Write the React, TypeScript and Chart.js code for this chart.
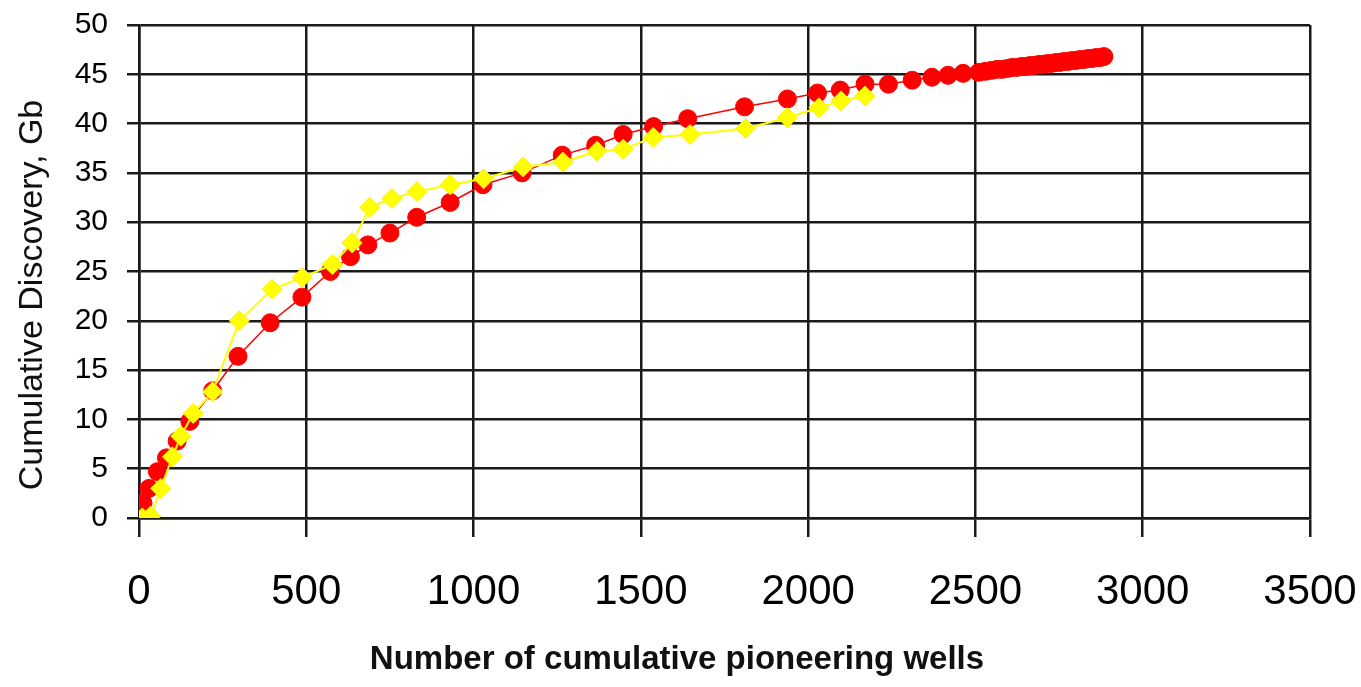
import React, { useEffect, useRef } from "react";
import { Chart, registerables } from "chart.js";

Chart.register(...registerables);

const xTickValues = [0, 500, 1000, 1500, 2000, 2500, 3000, 3500];
const yTickValues = [0, 5, 10, 15, 20, 25, 30, 35, 40, 45, 50];

const xAxisTitle = "Number of cumulative pioneering wells";
const yAxisTitle = "Cumulative Discovery, Gb";

const redX = [0, 12, 30, 55, 82, 114, 152, 220, 296, 392, 487, 572, 632, 684, 750, 830, 930, 1028, 1145, 1265, 1365, 1447, 1538, 1640, 1810, 1938, 2028, 2096, 2170, 2240, 2311, 2370, 2418, 2463, 2510, 2530, 2548, 2565, 2580, 2596, 2610, 2624, 2638, 2651, 2664, 2677, 2690, 2702, 2715, 2727, 2740, 2752, 2764, 2776, 2788, 2800, 2812, 2824, 2836, 2848, 2860, 2872, 2884];
const redY = [0, 1.5, 3.0, 4.7, 6.1, 7.8, 9.8, 12.9, 16.4, 19.8, 22.4, 25.0, 26.5, 27.7, 28.9, 30.5, 32.0, 33.8, 35.0, 36.8, 37.8, 38.9, 39.7, 40.5, 41.7, 42.5, 43.1, 43.4, 44.0, 44.0, 44.4, 44.7, 44.9, 45.1, 45.2, 45.3, 45.4, 45.5, 45.5, 45.6, 45.7, 45.7, 45.8, 45.8, 45.9, 45.9, 46.0, 46.0, 46.1, 46.1, 46.2, 46.2, 46.3, 46.3, 46.4, 46.4, 46.5, 46.5, 46.6, 46.6, 46.7, 46.7, 46.8];

const yellowX = [10, 35, 65, 100, 125, 162, 220, 300, 398, 488, 578, 637, 690, 756, 831, 930, 1030, 1148, 1267, 1369, 1447, 1537, 1647, 1813, 1938, 2032, 2098, 2170];
const yellowY = [0, 0.2, 3.0, 6.2, 8.3, 10.6, 12.8, 20.0, 23.2, 24.4, 25.7, 27.9, 31.5, 32.4, 33.1, 33.8, 34.4, 35.6, 36.1, 37.2, 37.4, 38.6, 38.9, 39.5, 40.6, 41.6, 42.3, 42.8];

const FAMILY = "'Liberation Sans', Arial, sans-serif";

export default function App() {
  const ref = useRef<HTMLCanvasElement>(null);

  useEffect(() => {
    document.body.style.margin = "0";
    const canvas = ref.current;
    if (!canvas) return;

    const titlePlugin = {
      id: "axisTitles",
      afterDraw(chart: any) {
        const c = chart.ctx as CanvasRenderingContext2D;
        const area = chart.chartArea;
        c.save();
        c.fillStyle = "#111";
        c.textAlign = "center";
        c.textBaseline = "middle";
        c.font = `bold 33px ${FAMILY}`;
        c.fillText(xAxisTitle, area.left + 538, 660);
        c.translate(33, area.top + 270);
        c.rotate(-Math.PI / 2);
        c.font = `34px ${FAMILY}`;
        c.fillText(yAxisTitle, 0, 0);
        c.restore();
      },
    };

    const chart = new Chart(canvas, {
      type: "scatter",
      data: {
        datasets: [
          {
            label: "Yellow",
            data: yellowX.map((x, i) => ({ x, y: yellowY[i] })),
            showLine: true,
            borderColor: "#ffff00",
            backgroundColor: "#ffff00",
            borderWidth: 2,
            pointStyle: "rectRot",
            pointRadius: 10,
            pointBorderWidth: 1,
            pointBorderColor: "#ffee00",
          },
          {
            label: "Red",
            data: redX.map((x, i) => ({ x, y: redY[i] })),
            showLine: true,
            borderColor: "#ff0000",
            backgroundColor: "#ff0000",
            borderWidth: 1.5,
            pointStyle: "circle",
            pointRadius: 9,
            pointBorderWidth: 1,
            pointBorderColor: "#ff0000",
          },
        ],
      },
      options: {
        animation: false,
        responsive: false,
        maintainAspectRatio: false,
        layout: { padding: { left: 0, right: 51, top: 25, bottom: 0 } },
        plugins: { legend: { display: false }, tooltip: { enabled: false } },
        scales: {
          x: {
            type: "linear",
            min: 0,
            max: 3500,
            afterBuildTicks: (s: any) => {
              s.ticks = xTickValues.map((v) => ({ value: v }));
            },
            afterFit: (s: any) => {
              s.height = 169;
              s.paddingLeft = 0;
              s.paddingRight = 0;
              s.paddingTop = 0;
              s.paddingBottom = 0;
            },
            grid: { color: "#1a1a1a", lineWidth: 2.5, tickLength: 19, drawTicks: true },
            border: { display: true, color: "#1a1a1a", width: 2.5 },
            ticks: {
              color: "#000",
              font: { size: 42, family: FAMILY },
              padding: 30,
              maxRotation: 0,
              autoSkip: false,
              callback: (v: any) => String(v),
            },
          },
          y: {
            type: "linear",
            min: 0,
            max: 50,
            afterBuildTicks: (s: any) => {
              s.ticks = yTickValues.map((v) => ({ value: v }));
            },
            afterFit: (s: any) => {
              s.width = 139;
              s.paddingLeft = 0;
              s.paddingRight = 0;
              s.paddingTop = 0;
              s.paddingBottom = 0;
            },
            grid: { color: "#1a1a1a", lineWidth: 2.5, tickLength: 12, drawTicks: true },
            border: { display: true, color: "#1a1a1a", width: 2.5 },
            ticks: {
              color: "#000",
              font: { size: 30, family: FAMILY },
              padding: 19,
              autoSkip: false,
              callback: (v: any) => String(v),
            },
          },
        },
      },
      plugins: [titlePlugin],
    } as any);

    return () => chart.destroy();
  }, []);

  return (
    <div style={{ position: "fixed", left: 0, top: 0, width: 1361, height: 687, background: "#fff" }}>
      <canvas ref={ref} width={1361} height={687} style={{ display: "block" }} />
    </div>
  );
}
